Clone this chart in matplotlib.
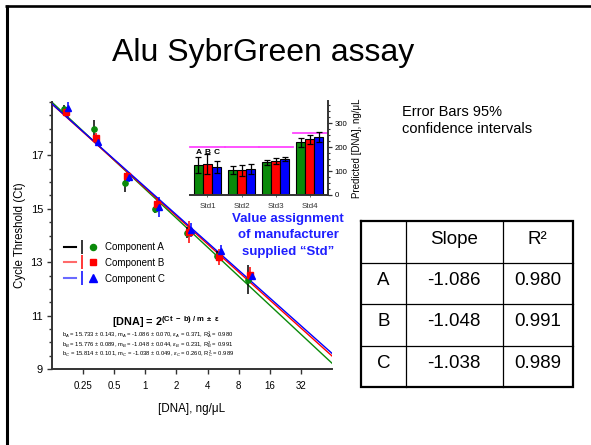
import numpy as np
import matplotlib
matplotlib.use('Agg')
import matplotlib.pyplot as plt
from matplotlib.lines import Line2D
from matplotlib.legend_handler import HandlerTuple
import matplotlib.transforms as mtransforms
from matplotlib.ticker import FixedLocator, MultipleLocator, NullLocator

plt.rcParams['font.family'] = ['Liberation Sans', 'DejaVu Sans']
plt.rcParams['mathtext.fontset'] = 'custom'
plt.rcParams['mathtext.rm'] = 'Liberation Sans'
plt.rcParams['mathtext.it'] = 'Liberation Sans:italic'
plt.rcParams['mathtext.bf'] = 'Liberation Sans:bold'

# ---------------- data ----------------
title = "Alu SybrGreen assay"
components = ['A', 'B', 'C']
legend_labels = ['Component A', 'Component B', 'Component C']
dna = [0.17, 0.335, 0.66, 1.31, 2.63, 5.2, 10.4]
ct_A = [18.74, 17.99, 15.98, 14.98, 14.11, 13.23, 12.35]
ct_B = [18.64, 17.65, 16.23, 15.17, 14.13, 13.18, 12.51]
ct_C = [18.78, 17.52, 16.19, 15.07, 14.20, 13.41, 12.49]
ct_err_A = [0.15, 0.34, 0.36, 0.15, 0.20, 0.20, 0.53]
ct_err_B = [0.12, 0.20, 0.15, 0.25, 0.40, 0.30, 0.30]
ct_err_C = [0.35, 0.15, 0.20, 0.37, 0.25, 0.22, 0.15]

fit_b = [15.733, 15.776, 15.814]
fit_b_err = [0.143, 0.089, 0.101]
fit_m = [-1.086, -1.048, -1.038]
fit_m_err = [0.070, 0.044, 0.049]
fit_eps = [0.371, 0.231, 0.260]
fit_r2 = [0.980, 0.991, 0.989]

x_ticks = [0.25, 0.5, 1, 2, 4, 8, 16, 32]
x_tick_labels = ['0.25', '0.5', '1', '2', '4', '8', '16', '32']
y_ticks = [9, 11, 13, 15, 17]

std_names = ['Std1', 'Std2', 'Std3', 'Std4']
pred_A = [124, 103, 137, 219]
pred_B = [128, 103, 143, 232]
pred_C = [118, 108, 150, 242]
pred_err_A = [34, 17, 10, 19]
pred_err_B = [41, 24, 12, 20]
pred_err_C = [25, 21, 10, 21]
std_ref = [200, 200, 200, 258]
inset_y_ticks = [0, 100, 200, 300]

table_header = ['', 'Slope', 'R\u00b2']

# ---------------- figure ----------------
W, H = 591, 445
fig = plt.figure(figsize=(W / 100, H / 100), dpi=100)
fig.patch.set_facecolor('white')


def fx(px):
    return px / W


def fy(py):
    return 1 - py / H


col_green = '#0a8a0a'
col_red = '#ff0000'
col_blue = '#0000ff'
comp_colors = [col_green, col_red, col_blue]
err_colors = ['black', col_red, col_blue]
markers = ['o', 's', '^']
msizes = [3.8, 3.8, 4.6]
legend_line_colors = ['black', '#ff6a6a', '#6a6aff']

# overlay axes in pixel coordinates
ov = fig.add_axes([0, 0, 1, 1])
ov.set_xlim(0, W)
ov.set_ylim(H, 0)
ov.axis('off')
ov.patch.set_alpha(0)

# slide frame
ov.plot([5, W], [6, 6], color='black', lw=1.9, solid_capstyle='butt')
ov.plot([6.5, 6.5], [5, H], color='black', lw=2.2, solid_capstyle='butt')

ov.text(263, 53, title, ha='center', va='center', fontsize=23)
ov.text(402, 112, 'Error Bars 95%', ha='left', va='center', fontsize=10.5)
ov.text(402, 129, 'confidence intervals', ha='left', va='center', fontsize=10.5)

for yy, line in zip([219, 235.5, 251.5], ['Value assignment', 'of manufacturer', 'supplied \u201cStd\u201d']):
    ov.text(288, yy, line, ha='center', va='center', fontsize=9.5,
            fontweight='bold', color='#1f1fff')

# ---------------- table ----------------
tcols = [361, 405.7, 502.7, 573]
trows = [221, 263, 304, 345.7, 386.5]
for x in tcols[1:-1]:
    ov.plot([x, x], [trows[0], trows[-1]], color='black', lw=0.9)
for y in trows[1:-1]:
    ov.plot([tcols[0], tcols[-1]], [y, y], color='black', lw=0.9)
ov.plot([tcols[0], tcols[-1], tcols[-1], tcols[0], tcols[0]],
        [trows[0], trows[0], trows[-1], trows[-1], trows[0]],
        color='black', lw=1.6, solid_joinstyle='miter')
ccx = [(tcols[i] + tcols[i + 1]) / 2 for i in range(3)]
rcy = [(trows[i] + trows[i + 1]) / 2 - 3 for i in range(4)]
for j, t in enumerate(table_header):
    ov.text(ccx[j], rcy[0], t, ha='center', va='center', fontsize=13.5)
for i, c in enumerate(components):
    vals = [c, f'{fit_m[i]:.3f}', f'{fit_r2[i]:.3f}']
    for j, t in enumerate(vals):
        ov.text(ccx[j], rcy[i + 1], t, ha='center', va='center', fontsize=13.5)

# ---------------- main axes ----------------
ax = fig.add_axes([fx(52), fy(369), (332 - 52) / W, (369 - 102) / H])
ax.patch.set_alpha(0)
ax.set_xscale('log', base=2)
ax.set_xlim(0.125, 64)
ax.set_ylim(9, 19)
for s in ['top', 'right']:
    ax.spines[s].set_visible(False)
for s in ['left', 'bottom']:
    ax.spines[s].set_color('#333333')
    ax.spines[s].set_linewidth(1.4)

ax.xaxis.set_major_locator(FixedLocator(x_ticks))
ax.xaxis.set_minor_locator(NullLocator())
ax.set_xticklabels(x_tick_labels)
ax.yaxis.set_major_locator(FixedLocator(y_ticks))
ax.yaxis.set_minor_locator(MultipleLocator(0.5))
ax.tick_params(axis='both', which='major', length=3.5, width=1, color='#333333',
               labelsize=7, pad=3)
ax.tick_params(axis='x', labelsize=7, pad=5)
ax.tick_params(axis='y', labelsize=8)
ax.tick_params(axis='y', which='minor', length=2.5, width=1, color='#333333')

ax.set_ylabel('Cycle Threshold (Ct)', fontsize=8.3, labelpad=3)
ax.set_xlabel('[DNA], ng/\u03bcL', fontsize=8.4, labelpad=9)

# regression lines
xfit = np.array([0.125, 64])
for i in range(3):
    ax.plot(xfit, fit_b[i] + fit_m[i] * np.log2(xfit), color=comp_colors[i],
            lw=1.0, zorder=2 + i)

cts = [ct_A, ct_B, ct_C]
errs = [ct_err_A, ct_err_B, ct_err_C]
offsets_px = [-2, 0, 2]
for i in range(3):
    tr = ax.transData + mtransforms.ScaledTranslation(offsets_px[i] / 100, 0,
                                                       fig.dpi_scale_trans)
    ax.errorbar(dna, cts[i], yerr=errs[i], fmt='none', ecolor=err_colors[i],
                elinewidth=1.1, capsize=0, transform=tr, zorder=6 + i)
    ax.plot(dna, cts[i], ls='none', marker=markers[i], ms=msizes[i],
            color=comp_colors[i], mec=comp_colors[i], transform=tr, zorder=9 + i)

handles = []
for i in range(3):
    handles.append((Line2D([], [], color=legend_line_colors[i], lw=1.5),
                    Line2D([], [], color=err_colors[i], marker='|', ms=10,
                           mew=1.1, ls='none'),
                    Line2D([], [], color=comp_colors[i], marker=markers[i],
                           ms=msizes[i] + 0.6, ls='none')))
ax.legend(handles, legend_labels, handler_map={tuple: HandlerTuple(ndivide=None)},
          loc='upper left', bbox_to_anchor=(fx(64), fy(242)),
          bbox_transform=fig.transFigure, frameon=False, borderpad=0,
          borderaxespad=0, handlelength=3.6, handletextpad=0.6,
          labelspacing=0.6, fontsize=7)

# formula annotation
ov.text(166, 322, r'[DNA] = 2$^{\mathbf{(Ct\ -\ b)\ /\ m\ \pm\ \varepsilon}}$',
        ha='center', va='center', fontsize=7.8, fontweight='bold')
for i, c in enumerate(components):
    s = (r'b$_{%s}$ = %.3f $\pm$ %.3f, m$_{%s}$ = %.3f $\pm$ %.3f, '
         r'$\varepsilon_{%s}$ = %.3f, R$^{2}_{%s}$ = %.3f'
         % (c, fit_b[i], fit_b_err[i], c, fit_m[i], fit_m_err[i],
            c, fit_eps[i], c, fit_r2[i]))
    ov.text(62, [334.5, 344.2, 353.9][i], s, ha='left', va='center', fontsize=4.2)

# ---------------- inset bar chart ----------------
iax = fig.add_axes([fx(190), fy(195), (327.7 - 190) / W, (195 - 100.7) / H])
iax.patch.set_alpha(0)
iax.set_xlim(-0.513, 3.525)
iax.set_ylim(0, 393)
for s in ['top', 'left']:
    iax.spines[s].set_visible(False)
for s in ['bottom', 'right']:
    iax.spines[s].set_color('#333333')
    iax.spines[s].set_linewidth(1.4)
iax.yaxis.tick_right()
iax.yaxis.set_label_position('right')
iax.yaxis.set_major_locator(FixedLocator(inset_y_ticks))
iax.yaxis.set_minor_locator(MultipleLocator(25))
iax.tick_params(axis='y', which='major', length=3, width=0.9, labelsize=5.6, pad=2,
                color='#333333')
iax.tick_params(axis='y', which='minor', length=1.6, width=0.8, color='#333333')
xg = np.arange(len(std_names))
iax.set_xticks(xg)
iax.set_xticklabels(std_names)
iax.tick_params(axis='x', length=1.5, width=0.6, labelsize=5.8, pad=4.5,
                labelcolor='#333333', color='#555555')
iax.set_ylabel('Predicted [DNA], ng/\u03bcL', fontsize=7, labelpad=3)

bw = 0.265
preds = [pred_A, pred_B, pred_C]
perrs = [pred_err_A, pred_err_B, pred_err_C]
for i in range(3):
    iax.bar(xg + (i - 1) * bw, preds[i], width=bw, color=comp_colors[i],
            edgecolor='black', linewidth=0.8, zorder=2)
    iax.errorbar(xg + (i - 1) * bw, preds[i], yerr=perrs[i], fmt='none',
                 ecolor='black', elinewidth=0.9, capsize=2.2, capthick=0.9, zorder=3)
for k, v in enumerate(std_ref):
    iax.plot([k - 0.5, min(k + 0.5, 3.525)], [v, v], color='#ff44ff', lw=1.3,
             zorder=1, clip_on=False)
for i, c in enumerate(components):
    iax.text(0 + (i - 1) * bw, 178, c, ha='center', va='center', fontsize=6,
             fontweight='bold')

fig.savefig('out.png', dpi=100)
